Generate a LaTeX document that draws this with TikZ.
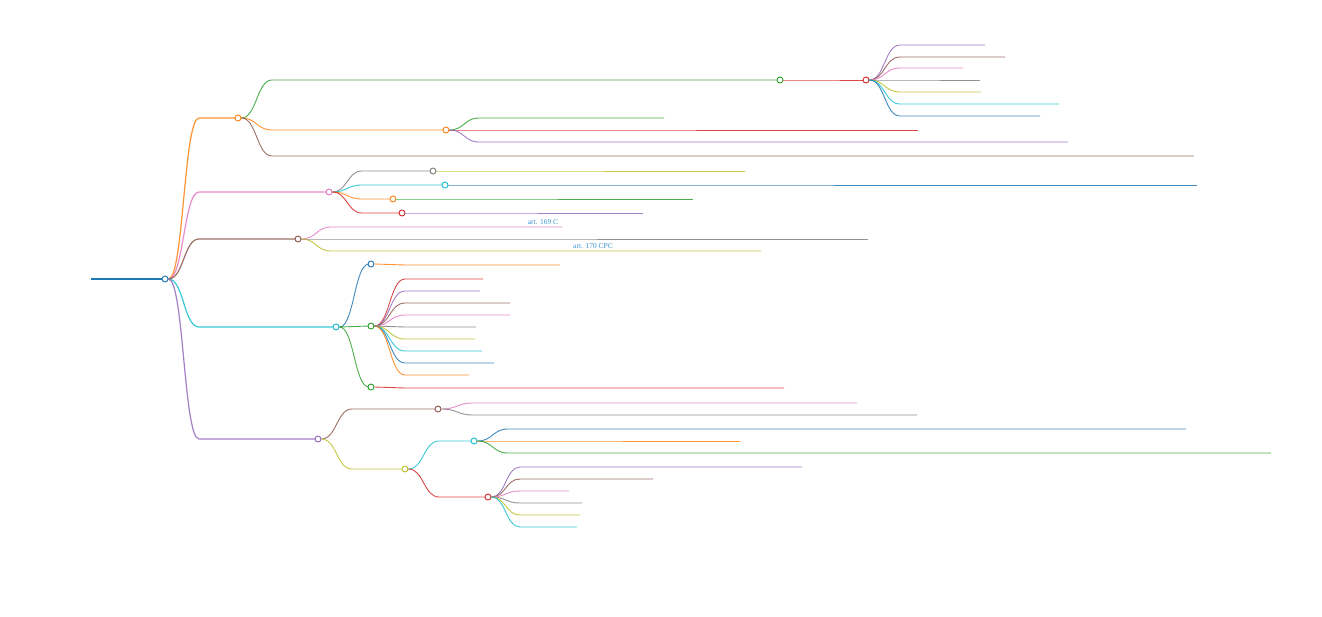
\documentclass[tikz,border=0pt]{standalone}
\usepackage{fontspec}
\setmainfont{Liberation Serif}
\usetikzlibrary{calc}
\definecolor{c0}{HTML}{1F77B4}
\definecolor{c1}{HTML}{FF7F0E}
\definecolor{c2}{HTML}{2CA02C}
\definecolor{c3}{HTML}{D62728}
\definecolor{c4}{HTML}{9467BD}
\definecolor{c5}{HTML}{8C564B}
\definecolor{c6}{HTML}{E377C2}
\definecolor{c7}{HTML}{7F7F7F}
\definecolor{c8}{HTML}{BCBD22}
\definecolor{c9}{HTML}{17BECF}
\definecolor{linkblue}{HTML}{3A93D1}
\tikzset{
  mmline/.style={line width=.9pt,opacity=.85},
  mmdot/.style={circle,draw,fill=white,inner sep=0pt,minimum size=6pt,line width=.9pt},
  mmlabel/.style={text=linkblue,font=\fontsize{7.5}{8}\selectfont,inner sep=0pt}
}
% [width] name, parent, colour, x from, x to, y
\newcommand\mmnode[7][]{%
  \coordinate (#2) at (#5,#7);
  \coordinate (#2-e) at (#6,#7);
  \path ($(#3-d.east)!.5!(#2)$) coordinate (mid);
  \draw[mmline,color=#4,#1] (#3-d.east) .. controls (mid |- #3-d.east) and (mid |- #2) .. (#2) -- (#2-e);}
\newcommand\mmdot[2]{\node[mmdot,draw=#2] (#1-d) at (#1-e) {};}

\begin{document}
\begin{tikzpicture}[x=1pt,y=-1pt]
\useasboundingbox (0,0) rectangle (1322,616);
\coordinate (root) at (91,279);
\coordinate (root-e) at (165,279);
\draw[c0,line width=2pt] (root)--(root-e);
\mmdot{root}{c0}
% first branch
\mmnode[line width=1.2pt]{a}{root}{c1}{199}{238}{118}\mmdot{a}{c1}
\mmnode{aa}{a}{c2}{272}{780}{80}\mmdot{aa}{c2}
\mmnode{aaa}{aa}{c3}{814}{866}{80}\mmdot{aaa}{c3}
\foreach \c/\y/\e [count=\i] in {c4/45/985,c5/57/1005,c6/68/963,c7/80/980,c8/92/981,c9/104/1059,c0/116/1040}
  {\mmnode{aaa\i}{aaa}{\c}{900}{\e}{\y}}
\mmnode{ab}{a}{c1}{272}{446}{130}\mmdot{ab}{c1}
\foreach \c/\y/\e [count=\i] in {c2/118/664,c3/130/918,c4/142/1068}
  {\mmnode{ab\i}{ab}{\c}{479}{\e}{\y}}
\mmnode{ac}{a}{c5}{272}{1194}{156}
% second branch
\mmnode[line width=1.2pt]{b}{root}{c6}{199}{329}{192}\mmdot{b}{c6}
\mmnode{ba}{b}{c7}{362}{433}{171}\mmdot{ba}{c7}
\mmnode{baa}{ba}{c8}{466}{745}{171}
\mmnode{bb}{b}{c9}{362}{445}{185}\mmdot{bb}{c9}
\mmnode{bba}{bb}{c0}{478}{1197}{185}
\mmnode{bc}{b}{c1}{362}{393}{199}\mmdot{bc}{c1}
\mmnode{bca}{bc}{c2}{426}{693}{199}
\mmnode{bd}{b}{c3}{362}{402}{213}\mmdot{bd}{c3}
\mmnode{bda}{bd}{c4}{435}{643}{213}
% third branch
\mmnode[line width=1.2pt]{c}{root}{c5}{199}{298}{239}\mmdot{c}{c5}
\mmnode{ca}{c}{c6}{331}{562}{227}
\mmnode{cb}{c}{c7}{331}{868}{239}
\mmnode{cc}{c}{c8}{331}{761}{251}
\node[mmlabel,anchor=base] (lab169) at (543,224) {art. 169 C};
\node[mmlabel,anchor=base] (lab170) at (593,248) {art. 170 CPC};
% fourth branch
\mmnode[line width=1.2pt]{d}{root}{c9}{199}{336}{327}\mmdot{d}{c9}
\mmnode{da}{d}{c0}{369}{371}{264}\mmdot{da}{c0}
\mmnode{daa}{da}{c1}{405}{560}{265}
\mmnode{db}{d}{c2}{369}{371}{326}\mmdot{db}{c2}
\foreach \c/\y/\e [count=\i] in {c3/279/483,c4/291/480,c5/303/510,c6/315/510,c7/327/476,c8/339/475,c9/351/482,c0/363/494,c1/375/469}
  {\mmnode{db\i}{db}{\c}{405}{\e}{\y}}
\mmnode{dc}{d}{c2}{369}{371}{387}\mmdot{dc}{c2}
\mmnode{dca}{dc}{c3}{405}{784}{388}
% fifth branch
\mmnode[line width=1.2pt]{e}{root}{c4}{199}{318}{439}\mmdot{e}{c4}
\mmnode{ea}{e}{c5}{352}{438}{409}\mmdot{ea}{c5}
\mmnode{eaa}{ea}{c6}{473}{857}{403}
\mmnode{eab}{ea}{c7}{473}{917}{415}
\mmnode{eb}{e}{c8}{352}{405}{469}\mmdot{eb}{c8}
\mmnode{eba}{eb}{c9}{439}{474}{441}\mmdot{eba}{c9}
\foreach \c/\y/\e [count=\i] in {c0/429/1186,c1/441/740,c2/453/1271}
  {\mmnode{eba\i}{eba}{\c}{508}{\e}{\y}}
\mmnode{ebb}{eb}{c3}{439}{488}{497}\mmdot{ebb}{c3}
\foreach \c/\y/\e [count=\i] in {c4/467/802,c5/479/653,c6/491/569,c7/503/582,c8/515/580,c9/527/577}
  {\mmnode{ebb\i}{ebb}{\c}{520}{\e}{\y}}
\end{tikzpicture}
\end{document}
